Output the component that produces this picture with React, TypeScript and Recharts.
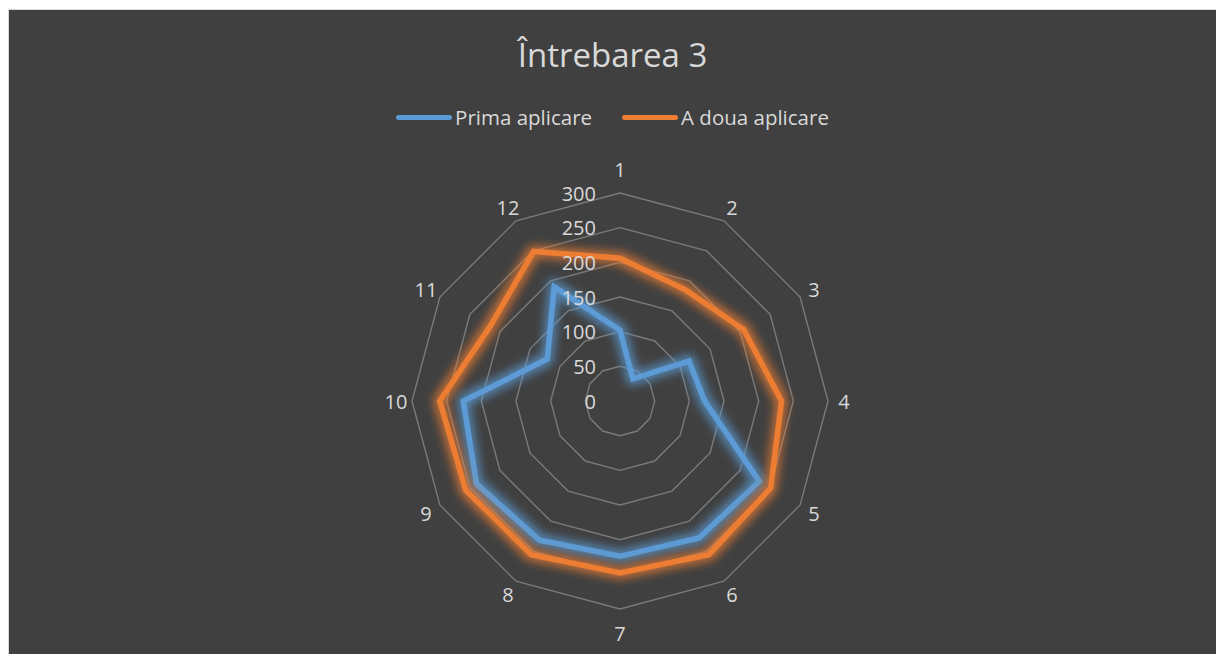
import React from "react";
import { RadarChart, Radar, PolarGrid, PolarAngleAxis, PolarRadiusAxis } from "recharts";

const categories = ["1", "2", "3", "4", "5", "6", "7", "8", "9", "10", "11", "12"];
const primaAplicare = [102, 37, 115, 122, 232, 228, 224, 232, 239, 226, 121, 190];
const aDouaAplicare = [206, 186, 206, 233, 251, 256, 248, 256, 257, 260, 216, 249];
const radiusTicks = [0, 50, 100, 150, 200, 250, 300];

const seriesNames = ["Prima aplicare", "A doua aplicare"];
const seriesColors = ["#5B9BD5", "#ED7D31"];

const data = categories.map((c, i) => ({
  cat: c,
  prima: primaAplicare[i],
  doua: aDouaAplicare[i],
}));

const FONT = "'Open Sans', 'Noto Sans', sans-serif";
const TXT = "#d9d9d9";
const CX = 611;
const CY = 391;

const AngleTick = (props: any) => {
  const { payload } = props;
  const ang = (payload.coordinate * Math.PI) / 180;
  const vertical = Math.abs(Math.sin(ang)) > 0.99;
  const r = vertical ? 232 : 224;
  const x = CX + r * Math.cos(ang);
  const y = CY - r * Math.sin(ang);
  return (
    <text x={x} y={y} textAnchor="middle" dominantBaseline="central" fill={TXT} fontSize={20} fontFamily={FONT}>
      {payload.value}
    </text>
  );
};

const RadiusTick = (props: any) => {
  const { x, y, payload } = props;
  return (
    <text x={x - 24} y={y} textAnchor="end" dominantBaseline="central" fill={TXT} fontSize={20} fontFamily={FONT}>
      {payload.value}
    </text>
  );
};

const GlowFilter = ({ id }: { id: string }) => (
  <filter id={id} x="-30%" y="-30%" width="160%" height="160%">
    <feMorphology in="SourceGraphic" operator="dilate" radius="2.5" result="d" />
    <feGaussianBlur in="d" stdDeviation="5" result="b" />
    <feComponentTransfer in="b" result="bt">
      <feFuncA type="linear" slope="0.75" />
    </feComponentTransfer>
    <feMerge>
      <feMergeNode in="bt" />
      <feMergeNode in="SourceGraphic" />
    </feMerge>
  </filter>
);

export default function App() {
  return (
    <div
      style={{
        position: "absolute",
        left: 8,
        top: 9,
        width: 1208,
        height: 645,
        background: "#404040",
        borderLeft: "1px solid #d9d9d9",
        borderTop: "1px solid #d9d9d9",
        boxSizing: "border-box",
        fontFamily: FONT,
      }}
    >
      <div
        style={{
          position: "absolute",
          top: 24,
          left: 0,
          width: "100%",
          textAlign: "center",
          color: TXT,
          fontSize: 33,
          lineHeight: "42px",
        }}
      >
        Întrebarea 3
      </div>
      <div
        style={{
          position: "absolute",
          top: 93,
          left: 0,
          width: "100%",
          display: "flex",
          justifyContent: "center",
          gap: 30,
          color: TXT,
          fontSize: 20.5,
          lineHeight: "28px",
        }}
      >
        {seriesNames.map((n, i) => (
          <div key={n} style={{ display: "flex", alignItems: "center" }}>
            <div style={{ width: 56, height: 5, borderRadius: 3, background: seriesColors[i], marginRight: 3 }} />
            <span>{n}</span>
          </div>
        ))}
      </div>
      <RadarChart
        width={1207}
        height={644}
        data={data}
        cx={CX}
        cy={CY}
        outerRadius={208}
        startAngle={90}
        endAngle={-270}
        margin={{ top: 0, right: 0, bottom: 0, left: 0 }}
      >
        <defs>
          <GlowFilter id="glowBlue" />
          <GlowFilter id="glowOrange" />
        </defs>
        <PolarGrid gridType="polygon" radialLines={false} stroke="#7a7a7a" strokeWidth={1.4} />
        <PolarAngleAxis dataKey="cat" tick={<AngleTick />} tickLine={false} axisLine={false} />
        <PolarRadiusAxis
          angle={90}
          domain={[0, 300]}
          ticks={radiusTicks as any}
          tickCount={7}
          axisLine={false}
          tick={<RadiusTick />}
        />
        <Radar
          name={seriesNames[0]}
          dataKey="prima"
          stroke={seriesColors[0]}
          strokeWidth={5.5}
          fill="none"
          fillOpacity={0}
          filter="url(#glowBlue)"
          dot={false}
          isAnimationActive={false}
        />
        <Radar
          name={seriesNames[1]}
          dataKey="doua"
          stroke={seriesColors[1]}
          strokeWidth={5.5}
          fill="none"
          fillOpacity={0}
          filter="url(#glowOrange)"
          dot={false}
          isAnimationActive={false}
        />
      </RadarChart>
    </div>
  );
}
